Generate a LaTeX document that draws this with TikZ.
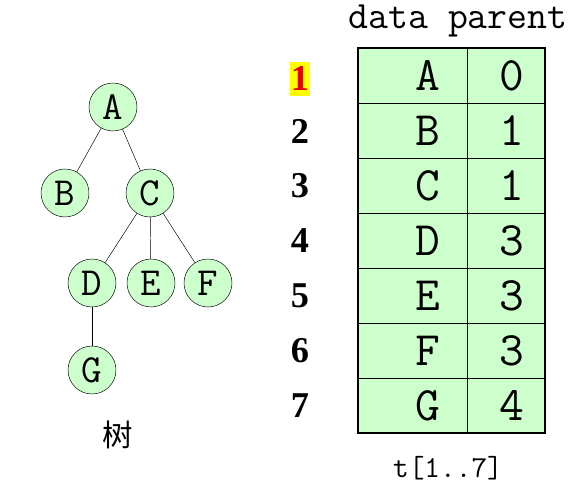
\documentclass[tikz,border=0pt]{standalone}
\usepackage{fontspec}
\newfontfamily\cjkfont{Noto Sans CJK SC}
\newfontfamily\idxfont{Liberation Serif}
\usetikzlibrary{positioning}
\definecolor{cellgreen}{RGB}{204,255,204}
\definecolor{idxred}{RGB}{230,0,0}
\definecolor{idxyellow}{RGB}{255,255,0}
\tikzset{
  treenode/.style={circle, draw, fill=cellgreen, minimum size=1.44cm, inner sep=0pt,
    font=\ttfamily\fontsize{34}{34}\selectfont},
  celltext/.style={font=\ttfamily\fontsize{41}{41}\selectfont, inner sep=0pt},
  idxtext/.style={font=\idxfont\bfseries\fontsize{31}{31}\selectfont, inner sep=1pt}
}

\begin{document}
\begin{tikzpicture}[x=0.03cm, y=-0.03cm]
  \useasboundingbox (0,0) rectangle (578,501);
  % Draw the tree
  \node[treenode] (A) at (113,107) {A};
  \node[treenode] (B) at (65,193) {B};
  \node[treenode] (C) at (150,193) {C};
  \node[treenode] (D) at (92,283) {D};
  \node[treenode] (E) at (151,283) {E};
  \node[treenode] (F) at (208,283) {F};
  \node[treenode] (G) at (92,370) {G};
  \draw (A) -- (B);
  \draw (A) -- (C);
  \draw (C) -- (D);
  \draw (C) -- (E);
  \draw (C) -- (F);
  \draw (D) -- (G);
  \node[font=\cjkfont\fontsize{26}{26}\selectfont] (tree) at (118,435) {树};
  % Draw the table cells
  \fill[cellgreen] (358,48) rectangle (545,433);
  \foreach \row in {1,...,6}
    \draw (358, 48 + 55*\row) -- (545, 48 + 55*\row);
  \draw (467,48) -- (467,433);
  \draw[line width=2.4pt] (358,48) rectangle (545,433);
  % Draw indices, data and parent entries
  \foreach \row/\data/\parent in {1/A/0,2/B/1,3/C/1,4/D/3,5/E/3,6/F/3,7/G/4} {
    \node[celltext] (data\row) at (428, 20.5 + 55*\row) {\data};
    \node[celltext] (parent\row) at (512, 20.5 + 55*\row) {\parent};
    \ifnum\row>1
      \node[idxtext] (idx\row) at (300, 21 + 55*\row) {\row};
    \fi }
  \node[idxtext, fill=idxyellow, text=idxred, minimum height=1.02cm,
    minimum width=0.6cm] (idx1) at (300,79) {1};
  % Header and caption
  \node[font=\ttfamily\fontsize{33}{33}\selectfont] (head) at (458,21) {data parent};
  \node[font=\ttfamily\fontsize{26}{26}\selectfont] (caption) at (448,468) {t[1..7]};
\end{tikzpicture}
\end{document}
